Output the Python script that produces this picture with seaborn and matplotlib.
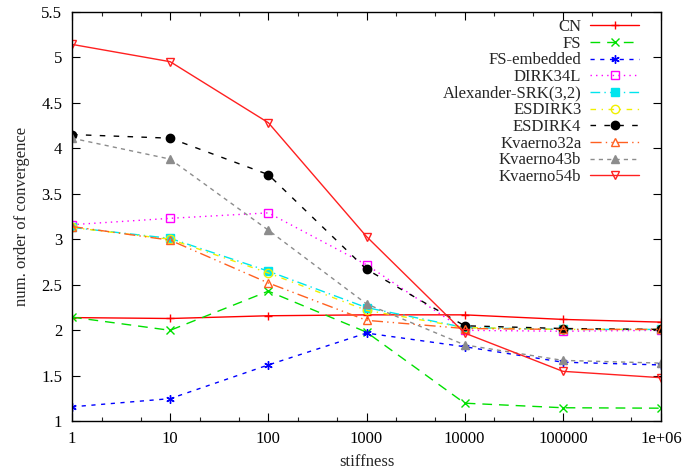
import matplotlib
matplotlib.use("Agg")
import matplotlib.pyplot as plt
import seaborn as sns
from matplotlib.ticker import FixedLocator, FixedFormatter, FuncFormatter, MultipleLocator

stiffness = [1, 10, 100, 1000, 10000, 100000, 1000000]
xtick_labels = ["1", "10", "100", "1000", "10000", "100000", "1e+06"]

names = ["CN", "FS", "FS-embedded", "DIRK34L", "Alexander-SRK(3,2)", "ESDIRK3",
         "ESDIRK4", "Kvaerno32a", "Kvaerno43b", "Kvaerno54b"]

cn = [2.14, 2.13, 2.16, 2.17, 2.17, 2.12, 2.09]
fs = [2.145, 2.00, 2.43, 1.98, 1.20, 1.15, 1.145]
fs_emb = [1.16, 1.25, 1.62, 1.97, 1.82, 1.65, 1.62]
dirk34l = [3.16, 3.23, 3.29, 2.72, 2.00, 1.99, 2.00]
alex = [3.13, 3.01, 2.65, 2.25, 2.03, 2.01, 2.01]
esdirk3 = [3.13, 3.00, 2.63, 2.22, 2.03, 2.01, 2.01]
esdirk4 = [4.15, 4.11, 3.71, 2.67, 2.05, 2.02, 2.01]
kv32a = [3.14, 2.99, 2.52, 2.11, 2.02, 2.01, 2.01]
kv43b = [4.11, 3.88, 3.10, 2.29, 1.84, 1.67, 1.64]
kv54b = [5.14, 4.95, 4.28, 3.03, 1.97, 1.55, 1.48]

series = [cn, fs, fs_emb, dirk34l, alex, esdirk3, esdirk4, kv32a, kv43b, kv54b]
colors = ["#ff0000", "#00e000", "#0000ff", "#ff00ff", "#00e5ee", "#f0f000",
          "#000000", "#ff6020", "#8c8c8c", "#ff2020"]
markers = ["+", "x", (6, 2, 0), "s", "s", "o", "o", "^", "^", "v"]
filled = [True, True, True, False, True, False, True, False, True, False]
styles = ["-", (0, (7, 5)), (0, (3, 4)), (0, (1, 3)), (0, (7, 3, 1, 3)),
          (0, (4, 4, 1, 4)), (0, (4, 6)), (0, (8, 3, 1, 3, 1, 3)), (0, (3, 3)), "-"]

sns.set_style("ticks")
plt.rcParams["font.family"] = ["Liberation Serif", "DejaVu Serif"]
plt.rcParams["font.size"] = 12

fig = plt.figure(figsize=(6.83, 4.70), dpi=100)
ax = fig.add_axes([72 / 683, 1 - 421.4 / 470, (661 - 72) / 683, (421.4 - 11.6) / 470])

for name, vals, c, m, f, ls in zip(names, series, colors, markers, filled, styles):
    sns.lineplot(x=stiffness, y=vals, ax=ax, color=c, marker=m, markersize=6,
                 markerfacecolor=(c if f else "none"), markeredgecolor=c,
                 markeredgewidth=1.0, linestyle=ls, linewidth=1.0, label=name)

ax.set_xscale("log")
ax.set_xlim(1, 1e6)
ax.set_ylim(1, 5.5)
ax.xaxis.set_major_locator(FixedLocator(stiffness))
ax.xaxis.set_major_formatter(FixedFormatter(xtick_labels))
minors = [k * d for d in stiffness[:-1] for k in (2, 5)]
ax.xaxis.set_minor_locator(FixedLocator(minors))
ax.xaxis.set_minor_formatter(FuncFormatter(lambda v, p: ""))
ax.yaxis.set_major_locator(MultipleLocator(0.5))
ax.yaxis.set_major_formatter(FuncFormatter(lambda v, p: f"{v:g}"))
ax.tick_params(which="major", direction="in", length=6, width=0.8, top=True, right=True,
               labelsize=12, pad=7, colors="black")
ax.tick_params(which="minor", direction="in", length=3, width=0.8, top=True, right=False)
ax.tick_params(axis="y", which="minor", left=False, right=False)
for s in ax.spines.values():
    s.set_linewidth(1.0)
    s.set_color("black")

ax.set_xlabel("stiffness", fontsize=12, labelpad=5)
ax.set_ylabel("num. order of convergence", fontsize=12, labelpad=8)

leg = ax.legend(loc="upper right", bbox_to_anchor=(0.968, 0.99), frameon=False,
                markerfirst=False, fontsize=12, handlelength=2.9, handletextpad=0.55,
                labelspacing=0.04, borderpad=0.2, borderaxespad=0.0)

fig.savefig("out.png", dpi=100)
